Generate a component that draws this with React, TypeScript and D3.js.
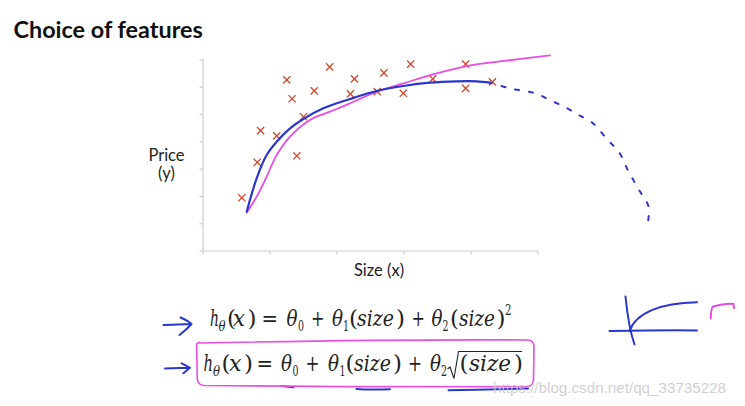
import React from "react";
import * as d3 from "d3";

// ---------- data ----------
const xTicks = [0, 1, 2, 3, 4, 5];
const yTicks = [0, 1, 2, 3, 4, 5, 6, 7];

const sizes = [0.58, 0.81, 0.86, 1.10, 1.25, 1.33, 1.40, 1.50, 1.66, 1.89, 2.20, 2.26, 2.60, 2.70, 2.99, 3.10, 3.43, 3.92, 3.92, 4.32];
const prices = [1.95, 3.25, 4.41, 4.22, 6.27, 5.58, 3.49, 4.92, 5.87, 6.75, 5.76, 6.31, 5.84, 6.53, 5.78, 6.85, 6.31, 6.85, 5.96, 6.20];

const quadX = [0.652, 0.801, 0.950, 1.100, 1.299, 1.498, 1.796, 2.194, 2.592, 2.990, 3.388, 3.786, 4.085, 4.284];
const quadY = [1.441, 2.663, 3.518, 4.006, 4.495, 4.837, 5.228, 5.570, 5.863, 6.046, 6.168, 6.217, 6.217, 6.168];

const quadTailX = [4.284, 4.58, 4.96, 5.18, 5.42, 5.61, 5.82, 6.03, 6.22, 6.34, 6.51, 6.65, 6.63];
const quadTailY = [6.168, 5.96, 5.78, 5.53, 5.25, 4.98, 4.68, 4.10, 3.58, 2.97, 2.23, 1.62, 0.89];

const sqrtX = [0.652, 0.801, 0.950, 1.100, 1.299, 1.597, 1.896, 2.194, 2.592, 2.990, 3.488, 3.935, 4.532, 5.179];
const sqrtY = [1.405, 1.991, 2.724, 3.518, 4.190, 4.800, 5.106, 5.411, 5.839, 6.144, 6.511, 6.779, 6.975, 7.170];

const title = "Choice of features";
const yLabel = ["Price", "(y)"];
const xLabel = "Size (x)";
const watermark = "https://blog.csdn.net/qq_33735228";

// ---------- style ----------
const BLUE = "#2b36cc";
const PINK = "#e84ee4";
const RED = "#d4472a";
const AXIS = "#cdcdcd";
const MATH = "'DejaVu Serif', serif";

type Tok = { t: string; x: number; it?: boolean; sub?: boolean; sup?: boolean; w?: number };

const line1: Tok[] = [
  { t: "h", x: 210, it: true, w: 9 },
  { t: "θ", x: 218.5, it: true, sub: true, w: 7 },
  { t: "(", x: 227 },
  { t: "x", x: 233, it: true, w: 12 },
  { t: ")", x: 247.5 },
  { t: "=", x: 261.5, w: 16.5 },
  { t: "θ", x: 286.5, it: true, w: 11 },
  { t: "0", x: 298, sub: true, w: 6 },
  { t: "+", x: 311, w: 13.5 },
  { t: "θ", x: 332, it: true, w: 11 },
  { t: "1", x: 343, sub: true, w: 6 },
  { t: "(", x: 349 },
  { t: "size", x: 357, it: true, w: 37 },
  { t: ")", x: 396 },
  { t: "+", x: 411.5, w: 13.5 },
  { t: "θ", x: 431.5, it: true, w: 11 },
  { t: "2", x: 442.5, sub: true, w: 6 },
  { t: "(", x: 450 },
  { t: "size", x: 459, it: true, w: 36 },
  { t: ")", x: 496.5 },
  { t: "2", x: 505, sup: true, w: 6.5 },
];

const line2: Tok[] = [
  { t: "h", x: 203.5, it: true, w: 9.5 },
  { t: "θ", x: 213, it: true, sub: true, w: 7 },
  { t: "(", x: 221.5 },
  { t: "x", x: 229, it: true, w: 12.5 },
  { t: ")", x: 244 },
  { t: "=", x: 256.5, w: 16.5 },
  { t: "θ", x: 281, it: true, w: 11 },
  { t: "0", x: 292.5, sub: true, w: 6 },
  { t: "+", x: 305.5, w: 14 },
  { t: "θ", x: 328, it: true, w: 11 },
  { t: "1", x: 339.5, sub: true, w: 6 },
  { t: "(", x: 345.5 },
  { t: "size", x: 354, it: true, w: 37 },
  { t: ")", x: 393 },
  { t: "+", x: 408, w: 14 },
  { t: "θ", x: 430, it: true, w: 11 },
  { t: "2", x: 441, sub: true, w: 6 },
  { t: "(", x: 459.5 },
  { t: "size", x: 469, it: true, w: 42 },
  { t: ")", x: 514 },
];

function Formula({ toks, y }: { toks: Tok[]; y: number }) {
  return (
    <g fill="#222">
      {toks.map((k, i) => {
        const fs = k.sub || k.sup ? 14 : 23;
        const yy = k.sub ? y + 4.5 : k.sup ? y - 11 : y;
        return (
          <text
            key={i}
            x={k.x}
            y={yy}
            style={{ fontFamily: MATH, fontSize: fs, fontStyle: k.it ? "italic" : "normal" }}
            textLength={k.w}
            lengthAdjust={k.w ? "spacingAndGlyphs" : undefined}
          >
            {k.t}
          </text>
        );
      })}
    </g>
  );
}

export default function App() {
  const x = d3.scaleLinear().domain([0, 5]).range([203, 538]);
  const y = d3.scaleLinear().domain([0, 7]).range([251, 60]);

  const pts = (xs: number[], ys: number[]) => xs.map((v, i) => [v, ys[i]] as [number, number]);
  const line = d3
    .line<[number, number]>()
    .x((d) => x(d[0]))
    .y((d) => y(d[1]))
    .curve(d3.curveCatmullRom.alpha(0.5));

  const cs = 3.6;

  return (
    <svg width={745} height={406} style={{ position: "absolute", left: 0, top: 0, background: "#fff" }}>
      <rect width={745} height={406} fill="#fff" />
      {/* title */}
      <text x={13.5} y={37.5} style={{ fontFamily: "Lato, 'Open Sans', sans-serif", fontWeight: 700, fontSize: 23.4 }} fill="#111">
        {title}
      </text>

      {/* axes */}
      <g stroke={AXIS} strokeWidth={1.2} fill="none">
        <line x1={x(0)} x2={x(0)} y1={y(7) - 1.5} y2={y(0)} />
        <line x1={x(0)} x2={x(5)} y1={y(0)} y2={y(0)} />
        {yTicks.map((t) => (
          <line key={"y" + t} x1={x(0) - 3.5} x2={x(0)} y1={y(t)} y2={y(t)} />
        ))}
        {xTicks.map((t) => (
          <line key={"x" + t} x1={x(t)} x2={x(t)} y1={y(0)} y2={y(0) + 3.5} />
        ))}
      </g>

      {/* axis labels */}
      <g style={{ fontFamily: "Lato, 'Open Sans', sans-serif", fontSize: 16.5 }} fill="#222" textAnchor="middle">
        <text x={166.5} y={160.5}>{yLabel[0]}</text>
        <text x={166.5} y={178.5}>{yLabel[1]}</text>
        <text x={379} y={276}>{xLabel}</text>
      </g>

      {/* crosses */}
      <g stroke={RED} strokeWidth={1.3}>
        {sizes.map((s, i) => (
          <g key={i}>
            <line x1={x(s) - cs} x2={x(s) + cs} y1={y(prices[i]) - cs} y2={y(prices[i]) + cs} />
            <line x1={x(s) - cs} x2={x(s) + cs} y1={y(prices[i]) + cs} y2={y(prices[i]) - cs} />
          </g>
        ))}
      </g>

      {/* curves */}
      <path d={line(pts(sqrtX, sqrtY)) || ""} fill="none" stroke={PINK} strokeWidth={1.8} strokeLinecap="round" />
      <path d={line(pts(quadX, quadY)) || ""} fill="none" stroke={BLUE} strokeWidth={2.2} strokeLinecap="round" />
      <path
        d={line(pts(quadTailX, quadTailY)) || ""}
        fill="none"
        stroke={BLUE}
        strokeWidth={2}
        strokeDasharray="4 10"
        strokeDashoffset={-12}
        strokeLinecap="round"
      />

      {/* formulas */}
      <Formula toks={line1} y={326} />
      <Formula toks={line2} y={371} />
      {/* radical */}
      <path d="M447.5,369 L450,367 L454,378.5 L458.5,351.5 L522,351.5" fill="none" stroke="#222" strokeWidth={1.1} />

      {/* hand annotations */}
      <g fill="none" stroke={BLUE} strokeWidth={2} strokeLinecap="round" strokeLinejoin="round">
        <path d="M163.5,325 C172,324.5 182,324.3 191.5,324 M180.5,317.5 C185,319.5 189,321.5 191.5,324 C188,328 184,331.5 179.5,335" />
        <path d="M165,368.5 C172,368.3 182,368 190,367.8 M181.5,363.3 C184.5,364.8 187.5,366.2 190,367.8 C188,369.5 185.5,371.5 183.3,373.3" />
        <path d="M281.5,386 L293.5,387.3" />
        <path d="M356.5,389 C368,389.8 380,389.6 390,389.3" />
        <path d="M448.5,390.3 C475,389.8 505,388.8 528,388.5" />
        {/* side sketch */}
        <path d="M625.5,296.5 C627,312 629.5,330 634.5,344.5" />
        <path d="M609.5,331 C640,330.5 670,330 697,330.5" />
        <path d="M629.5,331 C636,313 660,303 697,302.3" />
      </g>
      <path
        d="M199,343 C300,341 450,339.5 528,340 Q534,340.5 534,347 L533.5,380 Q533,386.5 526,386.8 C450,387.3 300,386.5 204,385.5 Q197.5,385 197.3,378.5 L196.6,346 Q196.8,342 200,342.5"
        fill="none"
        stroke={PINK}
        strokeWidth={1.6}
      />
      <path d="M710.7,318.5 C711,313 711,308 713,306.5 C720,304.5 728,303.5 733.5,304 L734,308" fill="none" stroke={PINK} strokeWidth={2} strokeLinecap="round" />

      {/* watermark */}
      <text x={493} y={393} style={{ fontFamily: "'Liberation Sans', Arial, sans-serif", fontSize: 15.2 }} fill="#c8c8c8" fillOpacity={0.85}>
        {watermark}
      </text>
    </svg>
  );
}
